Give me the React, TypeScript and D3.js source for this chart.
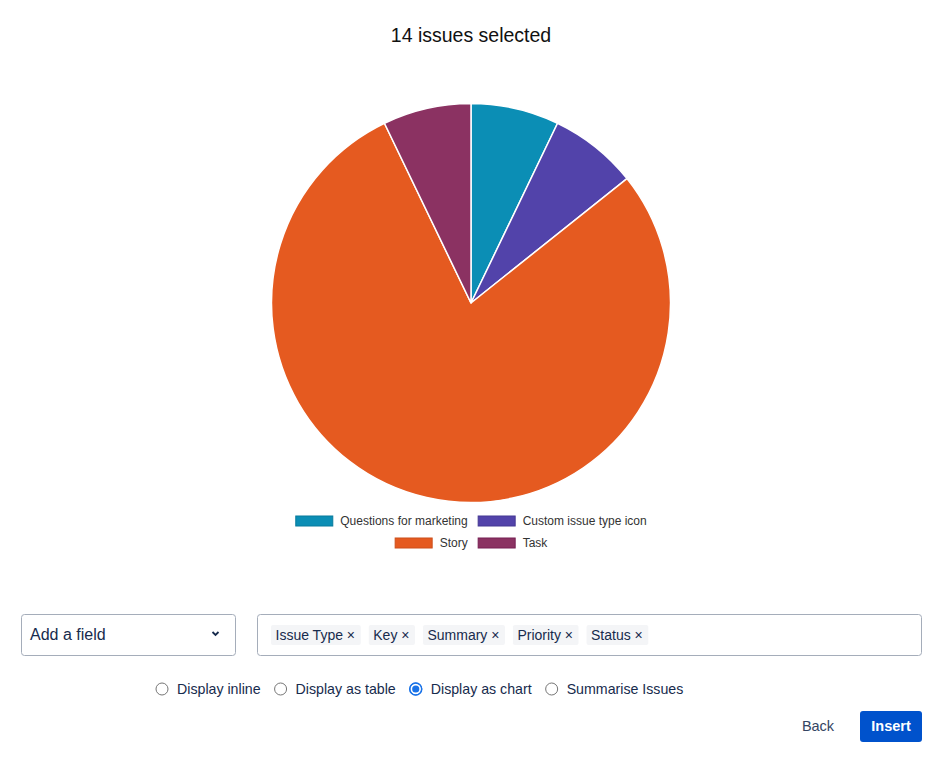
import React from "react";
import * as d3 from "d3";

const title = "14 issues selected";
const categories = ["Questions for marketing", "Custom issue type icon", "Story", "Task"];
const counts = [1, 1, 11, 1];
const colors = ["#0b8eb5", "#5243aa", "#e55a20", "#8b3262"];
const strokeColors = ["#087a9c", "#453893", "#cc4f1b", "#771f52"];
const fieldTags = ["Issue Type", "Key", "Summary", "Priority", "Status"];
const displayOptions = ["Display inline", "Display as table", "Display as chart", "Summarise Issues"];
const selectedOption = "Display as chart";

const FONT = "'Liberation Sans', Arial, Helvetica, sans-serif";

function measure(text: string, size: number, weight = "normal") {
  if (typeof document === "undefined") return text.length * size * 0.5;
  const c = document.createElement("canvas");
  const ctx = c.getContext("2d")!;
  ctx.font = `${weight} ${size}px ${FONT}`;
  return ctx.measureText(text).width;
}

export default function App() {
  const W = 944, H = 764;
  const cx = 471, cy = 303, r = 199.5;
  const data = categories.map((c, i) => ({ c, v: counts[i], i }));
  const pie = d3.pie<any>().value((d) => d.v).sort(null).startAngle(0).endAngle(2 * Math.PI);
  const arc = d3.arc<any>().innerRadius(0).outerRadius(r);
  const arcs = pie(data);

  const legendRows = [[0, 1], [2, 3]];
  const swW = 38, swH = 10, swGap = 7, itemGap = 10;
  const legendFont = 12;

  const tagFont = 14;
  let tx = 271;
  const tagItems = fieldTags.map((t) => {
    const label = t + " ×";
    const w = measure(label, tagFont) + 10;
    const item = { label, x: tx, w };
    tx += w + 8;
    return item;
  });

  const radioFont = 14.2;
  let rx = 162;
  const radios = displayOptions.map((o) => {
    const w = measure(o, radioFont);
    const item = { o, x: rx, w };
    rx += 15 + w + 20;
    return item;
  });

  return (
    <svg width={W} height={H} style={{ position: "absolute", left: 0, top: 0, background: "#fff" }} fontFamily={FONT}>
      <text x={cx} y={42} textAnchor="middle" fontSize={19.5} fill="#111">{title}</text>
      <g transform={`translate(${cx},${cy})`}>
        {arcs.map((a, i) => (
          <path key={i} d={arc(a) as string} fill={colors[i]} stroke="#fff" strokeWidth={1.5} strokeLinejoin="round" />
        ))}
      </g>
      {legendRows.map((row, ri) => {
        const itemW = row.map((k) => swW + swGap + measure(categories[k], legendFont));
        const tw = itemW.reduce((s, w) => s + w, 0) + itemGap * (row.length - 1);
        let lx = cx - tw / 2;
        const y = 521 + ri * 22;
        return (
          <g key={ri}>
            {row.map((k, j) => {
              const x0 = lx;
              lx += itemW[j] + itemGap;
              return (
                <g key={k}>
                  <rect x={x0 + 0.5} y={y - 5} width={swW - 1} height={swH} fill={colors[k]} stroke={strokeColors[k]} strokeWidth={1} />
                  <text x={x0 + swW + swGap} y={y + 4} fontSize={legendFont} fill="#333">{categories[k]}</text>
                </g>
              );
            })}
          </g>
        );
      })}

      <rect x={21.5} y={614.5} width={214} height={41} rx={3} fill="#fff" stroke="#a5adba" strokeWidth={1} />
      <text x={30} y={640} fontSize={16} fill="#172b4d">Add a field</text>
      <path d="M212.5,632 L215.5,635 L218.5,632" fill="none" stroke="#172b4d" strokeWidth={1.8} />

      <rect x={257.5} y={614.5} width={664} height={41} rx={3} fill="#fff" stroke="#a5adba" strokeWidth={1} />
      {tagItems.map((t, i) => (
        <g key={i}>
          <rect x={t.x} y={625} width={t.w} height={20} rx={2} fill="#f4f5f7" />
          <text x={t.x + 4.5} y={640} fontSize={tagFont} fill="#172b4d">{t.label}</text>
        </g>
      ))}

      {radios.map((rd, i) => {
        const sel = rd.o === selectedOption;
        return (
          <g key={i}>
            <circle cx={rd.x} cy={689} r={6} fill="#fff" stroke={sel ? "#1a73e8" : "#767676"} strokeWidth={1} />
            {sel && <circle cx={rd.x} cy={689} r={6} fill="none" stroke="#1a73e8" strokeWidth={1.5} />}
            {sel && <circle cx={rd.x} cy={689} r={3.6} fill="#1a73e8" />}
            <text x={rd.x + 15} y={694} fontSize={radioFont} fill="#172b4d">{rd.o}</text>
          </g>
        );
      })}

      <text x={818} y={731} textAnchor="middle" fontSize={14.5} fill="#344563">Back</text>
      <rect x={860} y={711} width={62} height={31} rx={3} fill="#0052cc" />
      <text x={891} y={731} textAnchor="middle" fontSize={14.5} fontWeight="bold" fill="#fff">Insert</text>
    </svg>
  );
}
